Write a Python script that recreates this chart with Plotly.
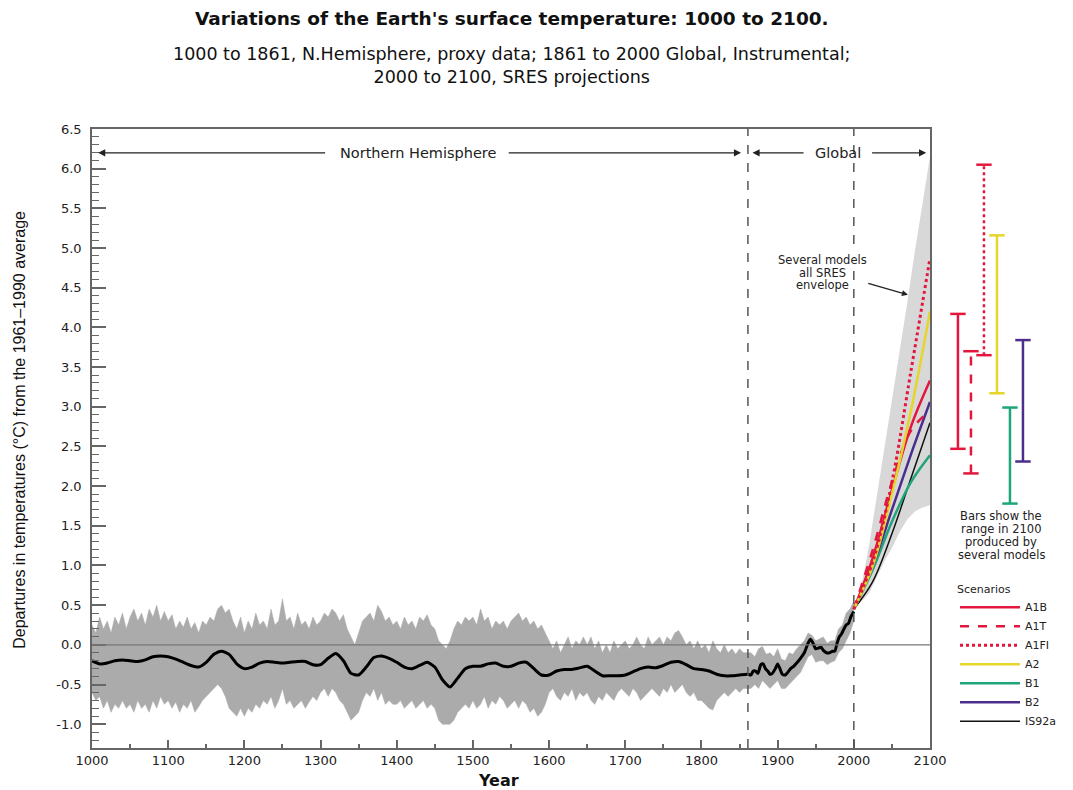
import plotly.graph_objects as go

# ---------------- data ----------------
# Reconstructed temperature (smoothed), 1000-2000
TEMP_YEARS = [1000, 1010, 1020, 1030, 1040, 1050, 1060, 1070, 1080, 1090,
              1100, 1110, 1120, 1130, 1140, 1150, 1160, 1170, 1180, 1190,
              1200, 1210, 1220, 1230, 1240, 1250, 1260, 1270, 1280, 1290,
              1300, 1310, 1320, 1330, 1340, 1350, 1360, 1370, 1380, 1390,
              1400, 1410, 1420, 1430, 1440, 1450, 1460, 1470, 1480, 1490,
              1500, 1510, 1520, 1530, 1540, 1550, 1560, 1570, 1580, 1590,
              1600, 1610, 1620, 1630, 1640, 1650, 1660, 1670, 1680, 1690,
              1700, 1710, 1720, 1730, 1740, 1750, 1760, 1770, 1780, 1790,
              1800, 1810, 1820, 1830, 1840, 1850, 1860,
              1861, 1865, 1868, 1871, 1874, 1878, 1881, 1884, 1887, 1890,
              1893, 1897, 1900, 1903, 1906, 1910, 1913, 1917, 1921, 1925,
              1930, 1935, 1940, 1943, 1946, 1950, 1954, 1957, 1960, 1964,
              1968, 1972, 1975, 1978, 1981, 1984, 1987, 1990, 1993, 1996, 2000]
TEMP_VALUES = [-0.20, -0.24, -0.23, -0.20, -0.19, -0.20, -0.21, -0.19, -0.15, -0.14,
               -0.15, -0.18, -0.22, -0.26, -0.28, -0.22, -0.12, -0.08, -0.12, -0.24,
               -0.30, -0.28, -0.23, -0.21, -0.22, -0.23, -0.22, -0.21, -0.21, -0.25,
               -0.25, -0.17, -0.11, -0.20, -0.36, -0.38, -0.28, -0.16, -0.14, -0.17,
               -0.22, -0.28, -0.30, -0.26, -0.22, -0.28, -0.44, -0.53, -0.42, -0.30,
               -0.27, -0.27, -0.24, -0.23, -0.27, -0.27, -0.23, -0.22, -0.30, -0.38,
               -0.38, -0.33, -0.31, -0.31, -0.29, -0.27, -0.33, -0.39, -0.39, -0.39,
               -0.38, -0.34, -0.30, -0.28, -0.29, -0.26, -0.22, -0.21, -0.25, -0.30,
               -0.31, -0.33, -0.37, -0.39, -0.39, -0.38, -0.37,
               -0.37, -0.38, -0.33, -0.33, -0.36, -0.25, -0.24, -0.30, -0.33, -0.37,
               -0.36, -0.30, -0.24, -0.30, -0.37, -0.38, -0.35, -0.30, -0.27, -0.23,
               -0.17, -0.10, 0.02, 0.07, 0.03, -0.05, -0.04, -0.03, -0.07, -0.10,
               -0.10, -0.08, -0.08, 0.02, 0.10, 0.14, 0.20, 0.25, 0.27, 0.35, 0.42]

# Uncertainty band (5-year steps, 1000-2000)
BAND_YEARS = list(range(1000, 2001, 5))
BAND_UPPER = [
    0.25, 0.15, 0.35, 0.20, 0.30, 0.15, 0.35, 0.25, 0.40, 0.20,
    0.35, 0.45, 0.30, 0.40, 0.25, 0.45, 0.35, 0.50, 0.30, 0.42,
    0.30, 0.38, 0.20, 0.30, 0.22, 0.35, 0.20, 0.28, 0.15, 0.30,
    0.25, 0.35, 0.30, 0.45, 0.50, 0.40, 0.45, 0.30, 0.20, 0.35,
    0.15, 0.30, 0.20, 0.40, 0.25, 0.30, 0.20, 0.45, 0.25, 0.30,
    0.58, 0.30, 0.35, 0.20, 0.40, 0.25, 0.30, 0.20, 0.35, 0.25,
    0.30, 0.40, 0.35, 0.45, 0.40, 0.30, 0.38, 0.20, 0.10, 0.00,
    0.15, 0.30, 0.35, 0.40, 0.30, 0.50, 0.42, 0.30, 0.35, 0.25,
    0.30, 0.20, 0.35, 0.25, 0.30, 0.20, 0.35, 0.30, 0.38, 0.25,
    0.20, 0.05, 0.00, -0.05, 0.05, 0.20, 0.30, 0.25, 0.35, 0.30,
    0.35, 0.25, 0.45, 0.30, 0.35, 0.20, 0.30, 0.25, 0.30, 0.20,
    0.30, 0.35, 0.40, 0.30, 0.35, 0.25, 0.30, 0.20, 0.25, 0.15,
    0.05, -0.05, 0.05, -0.10, 0.00, 0.10, -0.05, 0.05, 0.00, 0.10,
    0.00, 0.10, -0.05, 0.05, -0.10, 0.00, -0.10, 0.05, -0.05, 0.00,
    0.05, -0.05, 0.00, 0.10, 0.00, -0.05, 0.10, 0.00, 0.05, 0.10,
    0.00, 0.10, 0.05, 0.15, 0.18, 0.10, 0.00, 0.05, -0.05, 0.05,
    -0.05, 0.00, -0.10, 0.05, -0.05, -0.10, 0.00, -0.10, -0.05, -0.12,
    -0.05, -0.10, -0.10,
    -0.10, -0.15, -0.05, -0.02, -0.12, -0.10, -0.15, -0.05, -0.18, -0.20,
    -0.10, -0.12, -0.05, 0.00, 0.05, 0.15, 0.12, 0.05, 0.08, 0.10,
    0.02, 0.05, 0.05, 0.20, 0.25, 0.40, 0.45, 0.55]
BAND_LOWER = [
    -0.60, -0.70, -0.65, -0.80, -0.70, -0.85, -0.75, -0.80, -0.70, -0.80,
    -0.75, -0.85, -0.70, -0.80, -0.75, -0.85, -0.70, -0.80, -0.65, -0.75,
    -0.70, -0.80, -0.72, -0.85, -0.75, -0.80, -0.70, -0.85, -0.78, -0.70,
    -0.65, -0.60, -0.55, -0.50, -0.55, -0.65, -0.80, -0.85, -0.90, -0.80,
    -0.90, -0.80, -0.85, -0.75, -0.80, -0.70, -0.75, -0.65, -0.80, -0.70,
    -0.55, -0.75, -0.70, -0.80, -0.75, -0.70, -0.80, -0.72, -0.65, -0.70,
    -0.60, -0.55, -0.65, -0.55, -0.60, -0.70, -0.75, -0.85, -0.95, -0.90,
    -0.85, -0.70, -0.60, -0.65, -0.55, -0.70, -0.60, -0.75, -0.70, -0.75,
    -0.75, -0.70, -0.80, -0.75, -0.70, -0.80, -0.75, -0.70, -0.80, -0.75,
    -0.80, -0.95, -1.00, -1.00, -1.00, -0.95, -0.85, -0.80, -0.75, -0.80,
    -0.70, -0.80, -0.75, -0.65, -0.80, -0.70, -0.75, -0.65, -0.70, -0.80,
    -0.75, -0.70, -0.80, -0.70, -0.75, -0.85, -0.80, -0.90, -0.85, -0.75,
    -0.60, -0.55, -0.65, -0.70, -0.60, -0.65, -0.55, -0.70, -0.60, -0.65,
    -0.60, -0.70, -0.75, -0.65, -0.70, -0.60, -0.65, -0.70, -0.60, -0.55,
    -0.60, -0.65, -0.55, -0.60, -0.70, -0.65, -0.60, -0.55, -0.60, -0.65,
    -0.55, -0.60, -0.50, -0.60, -0.55, -0.50, -0.60, -0.65, -0.60, -0.70,
    -0.70, -0.75, -0.80, -0.82, -0.70, -0.65, -0.60, -0.65, -0.60, -0.55,
    -0.60, -0.55, -0.55,
    -0.55, -0.50, -0.55, -0.45, -0.50, -0.55, -0.50, -0.45, -0.55, -0.55,
    -0.50, -0.45, -0.40, -0.35, -0.25, -0.15, -0.12, -0.22, -0.20, -0.20,
    -0.25, -0.22, -0.20, -0.10, -0.05, 0.05, 0.15, 0.30]

# SRES envelope (several models, all scenarios)
ENV_YEARS = [2000, 2010, 2020, 2030, 2040, 2050, 2060, 2070, 2080, 2090, 2100]
ENV_UPPER = [0.45, 0.75, 1.25, 1.85, 2.45, 3.05, 3.65, 4.30, 4.95, 5.55, 6.15]
ENV_LOWER = [0.45, 0.55, 0.65, 0.85, 1.05, 1.22, 1.42, 1.58, 1.68, 1.73, 1.76]

# Scenario projections
PROJ_YEARS = [2000, 2025, 2050, 2075, 2100]
A1B = [0.45, 1.10, 1.95, 2.75, 3.33]
A1T = [0.45, 1.20, 2.05, 2.70, 2.95]
A1FI = [0.45, 1.05, 2.05, 3.45, 4.87]
A2 = [0.45, 1.00, 1.90, 2.95, 4.20]
B1 = [0.45, 0.95, 1.55, 2.05, 2.39]
B2 = [0.45, 1.00, 1.70, 2.40, 3.06]
IS92A = [0.45, 0.80, 1.40, 2.10, 2.80]

SCENARIOS = ["A1B", "A1T", "A1FI", "A2", "B1", "B2", "IS92a"]
PROJECTIONS = [A1B, A1T, A1FI, A2, B1, B2, IS92A]

# Ranges in 2100 produced by several models
BAR_SCENARIOS = ["A1B", "A1T", "A1FI", "A2", "B1", "B2"]
RANGE_LOW = [2.47, 2.16, 3.65, 3.17, 1.78, 2.31]
RANGE_HIGH = [4.17, 3.70, 6.05, 5.16, 2.99, 3.84]

PROXY_END = 1861
INSTR_END = 2000
X_TICKS = list(range(1000, 2101, 100))
Y_TICKS = [-1.0, -0.5, 0.0, 0.5, 1.0, 1.5, 2.0, 2.5, 3.0, 3.5, 4.0, 4.5, 5.0, 5.5, 6.0, 6.5]

# ---------------- styles ----------------
STYLE = {
    "A1B": dict(color="#e3173e", dash="solid", width=2.5),
    "A1T": dict(color="#e3173e", dash="dash", width=2.5),
    "A1FI": dict(color="#e3173e", dash="dot", width=3),
    "A2": dict(color="#e6d52a", dash="solid", width=2.5),
    "B1": dict(color="#1ea57c", dash="solid", width=2.5),
    "B2": dict(color="#4a2d8c", dash="solid", width=2.5),
    "IS92a": dict(color="#111111", dash="solid", width=1.5),
}
WIDE = "DejaVu Sans, Verdana, sans-serif"
NARROW = "Liberation Sans Narrow, Arial Narrow, sans-serif"
INK = "#222"

fig = go.Figure()

# proxy / instrumental uncertainty band
fig.add_trace(go.Scatter(
    x=BAND_YEARS + BAND_YEARS[::-1], y=BAND_UPPER + BAND_LOWER[::-1],
    fill="toself", fillcolor="#ababab", line=dict(width=0.5, color="#ababab"),
    mode="lines", showlegend=False, hoverinfo="skip"))

# SRES envelope
fig.add_trace(go.Scatter(
    x=ENV_YEARS + ENV_YEARS[::-1], y=ENV_UPPER + ENV_LOWER[::-1],
    fill="toself", fillcolor="#d8d8d8", line=dict(width=0),
    mode="lines", showlegend=False, hoverinfo="skip"))

# temperature record
fig.add_trace(go.Scatter(
    x=TEMP_YEARS, y=TEMP_VALUES, mode="lines",
    line=dict(color="black", width=3, shape="spline", smoothing=0.6),
    showlegend=False))

# projections (drawn back to front)
draw_order = ["IS92a", "B1", "B2", "A1T", "A1B", "A2", "A1FI"]
for name in draw_order:
    vals = PROJECTIONS[SCENARIOS.index(name)]
    st = STYLE[name]
    fig.add_trace(go.Scatter(
        x=PROJ_YEARS, y=vals, mode="lines", name=name,
        line=dict(color=st["color"], dash=st["dash"], width=st["width"], shape="spline"),
        legendrank=SCENARIOS.index(name) + 1))

# range bars, on a secondary x axis to the right of the plot
for name, lo, hi in zip(BAR_SCENARIOS, RANGE_LOW, RANGE_HIGH):
    st = STYLE[name]
    fig.add_trace(go.Scatter(
        x=[name, name], y=[lo, hi], xaxis="x2", yaxis="y",
        mode="lines+markers",
        line=dict(color=st["color"], dash=st["dash"], width=2.5),
        marker=dict(symbol="line-ew", size=11, line=dict(color=st["color"], width=2.5)),
        showlegend=False))

MAIN_RIGHT = 0.872
fig.update_layout(
    width=1073, height=790,
    margin=dict(l=84, r=28, t=121, b=50),
    paper_bgcolor="white", plot_bgcolor="white",
    font=dict(family=WIDE, color=INK, size=13),
    xaxis=dict(domain=[0, MAIN_RIGHT], range=[1000, 2100], tickvals=X_TICKS,
               ticks="inside", ticklen=8, tickwidth=1.5, tickcolor="#666",
               minor=dict(dtick=50, ticks="inside", ticklen=4, tickwidth=1.5, tickcolor="#666"),
               showline=True, linecolor="#666", linewidth=1.5, mirror=True,
               showgrid=False, zeroline=False,
               tickfont=dict(size=13, color=INK, family=WIDE)),
    xaxis2=dict(domain=[MAIN_RIGHT, 1], anchor="y", type="category",
                categoryorder="array", categoryarray=BAR_SCENARIOS,
                range=[-2.15, 7.31], visible=False, showgrid=False),
    yaxis=dict(range=[-1.3, 6.5], tickvals=Y_TICKS, ticktext=[f"{v:.1f}" for v in Y_TICKS],
               ticks="inside", ticklen=14, tickwidth=1.5, tickcolor="#666",
               minor=dict(dtick=0.1, ticks="inside", ticklen=7, tickwidth=1.2, tickcolor="#666"),
               showline=True, linecolor="#666", linewidth=1.5, mirror=True,
               showgrid=False, zeroline=False, ticklabelstandoff=6,
               tickfont=dict(size=13, color=INK, family=WIDE)),
    legend=dict(x=0.898, y=0.274, xanchor="left", yanchor="top",
                title=dict(text="Scenarios", font=dict(size=11, family=WIDE)),
                font=dict(size=11, color=INK, family=WIDE), itemwidth=60,
                bgcolor="rgba(0,0,0,0)", tracegroupgap=0),
)

# zero line and period boundaries
fig.add_shape(type="line", xref="x domain", yref="y", x0=0, x1=1, y0=0, y1=0,
              line=dict(color="#777", width=1.2))
for xb in (PROXY_END, INSTR_END):
    fig.add_shape(type="line", xref="x", yref="paper", x0=xb, x1=xb, y0=0, y1=1,
                  line=dict(color="#555", width=1.5, dash="dash"))

# period arrows
ARROW_Y = 6.2
arrow = dict(showarrow=True, arrowhead=2, arrowsize=1.1, arrowwidth=1.3, arrowcolor="#222",
             axref="x", ayref="y", text="", xref="x", yref="y")
for tip, tail in [(1008, 1308), (1852, 1545), (1867, 1936), (2095, 2022)]:
    fig.add_annotation(x=tip, y=ARROW_Y, ax=tail, ay=ARROW_Y, **arrow)
fig.add_annotation(x=1428, y=ARROW_Y, text="Northern Hemisphere", showarrow=False,
                   xanchor="center", yanchor="middle", font=dict(size=14.5, color=INK))
fig.add_annotation(x=1979, y=ARROW_Y, text="Global", showarrow=False,
                   xanchor="center", yanchor="middle", font=dict(size=14.5, color=INK))

# envelope annotation (one line per row, white behind to break the dashed line)
ENV_NOTE = ["Several models", "all SRES", "envelope"]
for i, line in enumerate(ENV_NOTE):
    fig.add_annotation(x=1959, y=4.85 - 0.16 * i, text=line, showarrow=False,
                       xanchor="center", yanchor="middle", bgcolor="white", borderpad=0,
                       font=dict(size=11.5, color=INK))
fig.add_annotation(x=2071, y=4.41, ax=2017, ay=4.56, axref="x", ayref="y", text="",
                   showarrow=True, arrowhead=2, arrowsize=1, arrowwidth=1.2, arrowcolor="#222")

# bars note
BAR_NOTE = ["Bars show the", "range in 2100", "produced by", "several models"]
for i, line in enumerate(BAR_NOTE):
    fig.add_annotation(xref="paper", yref="paper", x=0.946, y=0.374 - 0.0205 * i,
                       text=line, showarrow=False, xanchor="center", yanchor="middle",
                       font=dict(size=11.5, color=INK))

# titles
fig.add_annotation(xref="paper", yref="paper", x=0.437, y=1.179, xanchor="center", yanchor="middle",
                   text="<b>Variations of the Earth's surface temperature: 1000 to 2100.</b>",
                   showarrow=False, font=dict(size=18.5, color="#111", family=WIDE))
fig.add_annotation(xref="paper", yref="paper", x=0.437, y=1.102,
                   xanchor="center", yanchor="middle",
                   text="1000 to 1861, N.Hemisphere, proxy data; 1861 to 2000 Global, Instrumental;"
                        "<br>2000 to 2100, SRES projections",
                   showarrow=False, font=dict(size=17.5, color="#111", family=WIDE))
fig.add_annotation(xref="paper", yref="paper", x=0.4225, y=-0.053, xanchor="center", yanchor="middle",
                   text="<b>Year</b>", showarrow=False, font=dict(size=16, color="#111", family=WIDE))
fig.add_annotation(xref="paper", yref="paper", x=-0.075, y=0.514, textangle=-90,
                   xanchor="center", yanchor="middle",
                   text="Departures in temperatures (°C) from the 1961–1990 average",
                   showarrow=False, font=dict(size=16, color="#111", family=NARROW))

fig.write_html("out.html")
